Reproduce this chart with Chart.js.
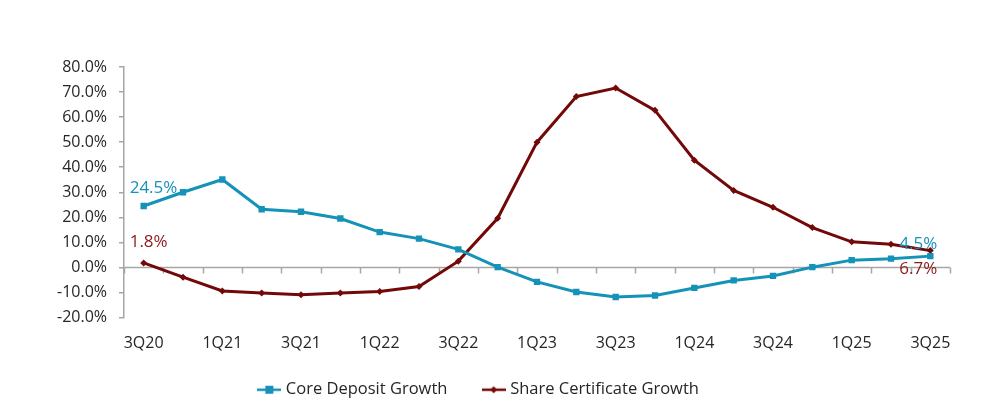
<!DOCTYPE html>
<html>
<head>
<meta charset="utf-8">
<script src="https://cdn.jsdelivr.net/npm/chart.js@4/dist/chart.umd.min.js"></script>
<style>
  html, body { margin: 0; padding: 0; background: #fff; }
  #wrap { width: 1000px; height: 417px; }
</style>
</head>
<body>
<div id="wrap"><canvas id="growthChart"></canvas></div>
<script>
// quarters 3Q20 .. 3Q25
const quarters = ['3Q20','4Q20','1Q21','2Q21','3Q21','4Q21','1Q22','2Q22','3Q22','4Q22',
  '1Q23','2Q23','3Q23','4Q23','1Q24','2Q24','3Q24','4Q24','1Q25','2Q25','3Q25'];
const coreDeposit = [24.5, 30.0, 35.1, 23.2, 22.2, 19.5, 14.1, 11.5, 7.2, 0.1,
  -5.8, -9.8, -11.8, -11.2, -8.2, -5.2, -3.4, 0.1, 2.9, 3.5, 4.5];
const shareCert = [1.8, -3.9, -9.4, -10.2, -10.9, -10.2, -9.6, -7.6, 2.5, 19.6,
  50.0, 68.2, 71.6, 62.7, 42.8, 30.7, 24.0, 15.9, 10.2, 9.2, 6.7];
const yTicks = [80, 70, 60, 50, 40, 30, 20, 10, 0, -10, -20];

const tealCol = '#1592b8';
const redCol = '#730808';
const fontFam = "'Open Sans', 'Noto Sans', sans-serif";

// little line+marker pictures for the legend
function legendIcon(color, shape) {
  const c = document.createElement('canvas');
  c.width = 24; c.height = 12;
  const g = c.getContext('2d');
  g.strokeStyle = color; g.lineWidth = 2.5;
  g.beginPath(); g.moveTo(0, 6); g.lineTo(24, 6); g.stroke();
  g.fillStyle = color;
  if (shape == 'rect') {
    g.fillRect(8, 2, 8, 8);
  } else {
    g.beginPath(); g.moveTo(12, 2.5); g.lineTo(15.5, 6); g.lineTo(12, 9.5); g.lineTo(8.5, 6); g.closePath(); g.fill();
  }
  return c;
}
const tealIcon = legendIcon(tealCol, 'rect');
const redIcon = legendIcon(redCol, 'diamond');

// zero line + small ticks on it, like the excel axis
const zeroAxis = {
  id: 'zeroAxis',
  beforeDatasetsDraw(chart) {
    const ctx = chart.ctx;
    const x = chart.scales.x, y = chart.scales.y;
    const y0 = Math.round(y.getPixelForValue(0)) + 0.5;
    ctx.save();
    ctx.strokeStyle = '#a6a6a6';
    ctx.lineWidth = 1.5;
    ctx.beginPath();
    ctx.moveTo(chart.chartArea.left, y0);
    ctx.lineTo(chart.chartArea.right, y0);
    const step = x.getPixelForValue(1) - x.getPixelForValue(0);
    for (let i = 0; i <= quarters.length; i++) {
      const px = Math.round(x.getPixelForValue(i) - step / 2) + 0.5;
      ctx.moveTo(px, y0);
      ctx.lineTo(px, y0 + 6);
    }
    ctx.stroke();
    ctx.restore();
  }
};

// end-point labels
const endLabels = {
  id: 'endLabels',
  afterDatasetsDraw(chart) {
    const ctx = chart.ctx;
    const tealPts = chart.getDatasetMeta(0).data;
    const redPts = chart.getDatasetMeta(1).data;
    const last = quarters.length - 1;
    ctx.save();
    ctx.font = '17px ' + fontFam;
    ctx.textBaseline = 'middle';
    ctx.textAlign = 'left';
    ctx.fillStyle = tealCol;
    ctx.fillText(coreDeposit[0].toFixed(1) + '%', tealPts[0].x - 14, tealPts[0].y - 18);
    ctx.textAlign = 'right';
    ctx.fillText(coreDeposit[last].toFixed(1) + '%', tealPts[last].x + 7, tealPts[last].y - 12);
    ctx.fillStyle = '#8a1a1a';
    ctx.textAlign = 'left';
    ctx.fillText(shareCert[0].toFixed(1) + '%', redPts[0].x - 14, redPts[0].y - 21);
    ctx.textAlign = 'right';
    ctx.fillText(shareCert[last].toFixed(1) + '%', redPts[last].x + 7, redPts[last].y + 19);
    ctx.restore();
  }
};

// excel put the legend a bit left of centre and close under the axis
const legendShift = {
  id: 'legendShift',
  afterLayout(chart) {
    const lg = chart.legend;
    lg.left -= 20;
    lg.right -= 20;
    lg.top -= 9;
    lg.bottom -= 9;
  }
};

const chartCtx = document.getElementById('growthChart').getContext('2d');
const growthChart = new Chart(chartCtx, {
  type: 'line',
  data: {
    labels: quarters,
    datasets: [
      {
        label: 'Core Deposit Growth',
        data: coreDeposit,
        borderColor: tealCol,
        backgroundColor: tealCol,
        borderWidth: 3,
        pointStyle: 'rect',
        pointRadius: 4.5,
        pointBorderWidth: 0,
        tension: 0,
      },
      {
        label: 'Share Certificate Growth',
        data: shareCert,
        borderColor: redCol,
        backgroundColor: redCol,
        borderWidth: 3,
        pointStyle: 'rectRot',
        pointRadius: 3.5,
        pointBorderWidth: 0,
        tension: 0,
      },
    ],
  },
  options: {
    responsive: true,
    maintainAspectRatio: false,
    animation: false,
    layout: { padding: { left: 50, right: 50, top: 67, bottom: 0 } },
    scales: {
      x: {
        offset: true,
        border: { display: false },
        grid: { display: false },
        afterFit: (scale) => { scale.height = 35; },
        ticks: {
          autoSkip: false,
          maxRotation: 0,
          padding: 8,
          color: '#262626',
          font: { family: fontFam, size: 16 },
          callback: (v, i) => (i % 2 == 0 ? quarters[i] : ''),
        },
      },
      y: {
        min: -20,
        max: 80,
        afterBuildTicks: (scale) => { scale.ticks = yTicks.map((v) => ({ value: v })); },
        afterFit: (scale) => { scale.width = 74; },
        border: { display: true, color: '#a6a6a6', width: 1.5 },
        grid: { drawOnChartArea: false, drawTicks: true, tickLength: 5, color: '#a6a6a6', lineWidth: 1.5 },
        ticks: {
          padding: 12,
          color: '#262626',
          font: { family: fontFam, size: 16 },
          callback: (v) => v.toFixed(1) + '%',
        },
      },
    },
    plugins: {
      legend: {
        position: 'bottom',
        labels: {
          usePointStyle: true,
          padding: 38,
          color: '#262626',
          font: { family: fontFam, size: 16.5 },
          generateLabels: (chart) => chart.data.datasets.map((ds, i) => ({
            text: ds.label,
            pointStyle: i == 0 ? tealIcon : redIcon,
            fillStyle: ds.borderColor,
            strokeStyle: ds.borderColor,
            lineWidth: 0,
            hidden: false,
            datasetIndex: i,
            fontColor: '#262626',
          })),
        },
      },
      tooltip: { enabled: false },
    },
  },
  plugins: [zeroAxis, endLabels, legendShift],
});
</script>
</body>
</html>
